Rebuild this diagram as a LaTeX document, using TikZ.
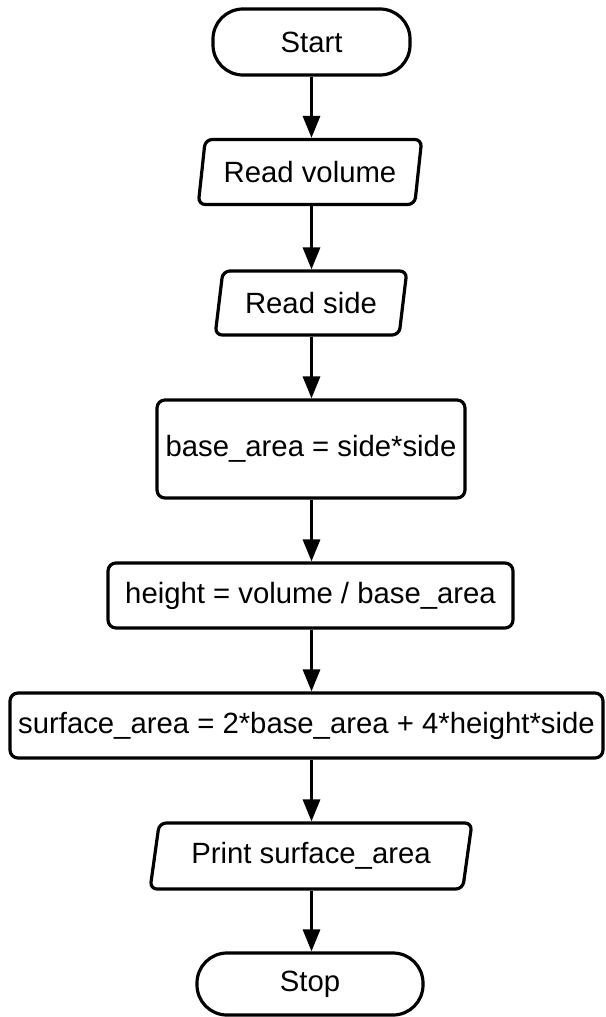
\documentclass[tikz,border=0pt]{standalone}
\usepackage{fontspec}
\setmainfont{Liberation Sans}
\usetikzlibrary{shapes.geometric,arrows.meta}
\begin{document}
\begin{tikzpicture}[x=1pt,y=-1pt,
  box/.style={font=\fontsize{29.3}{35}\selectfont, line width=3.2pt, draw=black, fill=white, inner sep=0pt},
  term/.style={box, rectangle, rounded corners=30pt},
  io/.style={box, trapezium, trapezium left angle=75, trapezium right angle=105,
             trapezium stretches=true, rounded corners=7pt},
  proc/.style={box, rectangle, rounded corners=8pt},
  flow/.style={line width=3.2pt, -{Triangle[length=22pt,width=17pt]}}]
\fill[white] (0,0) rectangle (605,1017);
\useasboundingbox (0,0) rectangle (605,1017);

\node[term, minimum width=197pt, minimum height=66pt] (start) at (311.5,42) {Start};
\node[io, minimum width=224pt, minimum height=65pt] (rv) at (310,172) {Read volume};
\node[io, minimum width=192pt, minimum height=64pt] (rs) at (311,303) {Read side};
\node[proc, minimum width=308pt, minimum height=98pt] (base) at (311,449) {\raisebox{4pt}{base\_area = side*side}};
\node[proc, minimum width=405pt, minimum height=65pt] (hgt) at (310.5,595.5) {height = volume / base\_area};
\node[proc, minimum width=593pt, minimum height=65pt] (surf) at (306.5,725.5) {surface\_area = 2*base\_area + 4*height*side};
\node[io, minimum width=322pt, minimum height=66pt] (print) at (311,856) {Print surface\_area};
\node[term, minimum width=226pt, minimum height=62pt] (stop) at (310,984) {Stop};

\draw[flow] (start.south) -- (start.south |- rv.north);
\draw[flow] (rv.south -| start.south) -- (start.south |- rs.north);
\draw[flow] (rs.south -| start.south) -- (start.south |- base.north);
\draw[flow] (base.south -| start.south) -- (start.south |- hgt.north);
\draw[flow] (hgt.south -| start.south) -- (start.south |- surf.north);
\draw[flow] (surf.south -| start.south) -- (start.south |- print.north);
\draw[flow] (print.south -| start.south) -- (start.south |- stop.north);
\end{tikzpicture}
\end{document}
